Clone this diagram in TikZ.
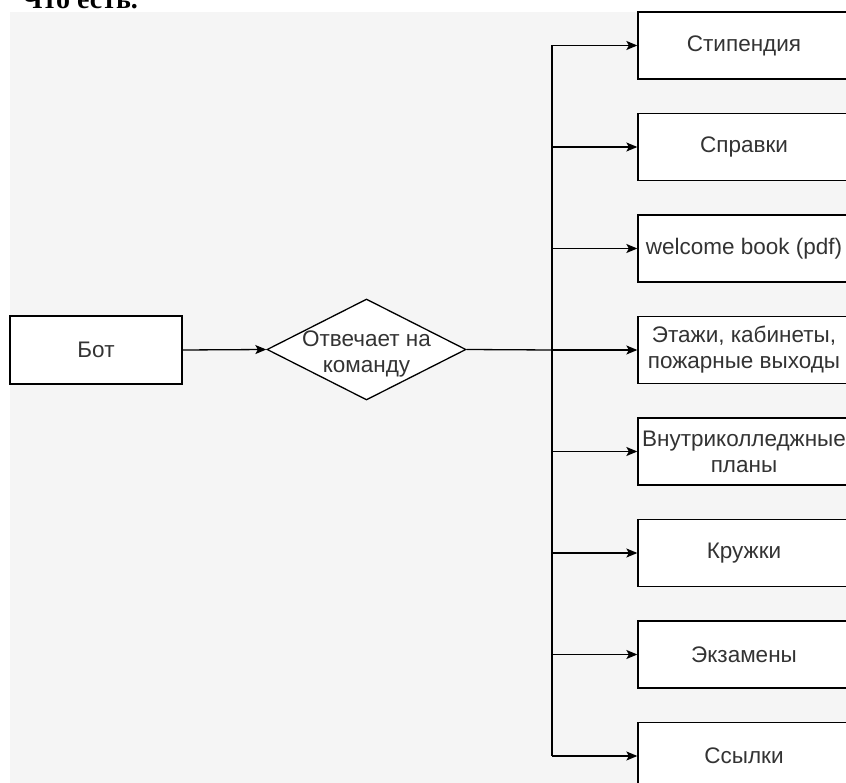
\documentclass[tikz,border=0pt]{standalone}
\usepackage{fontspec}
\setmainfont{Liberation Sans}
\newfontfamily\titlefont{Liberation Serif}
\usetikzlibrary{arrows.meta,shapes.geometric}
\definecolor{bggray}{HTML}{F5F5F5}
\definecolor{txt}{HTML}{333333}
\begin{document}
\begin{tikzpicture}[x=1pt,y=-1pt,
  lbl/.style={font=\fontsize{22.5}{26}\selectfont, text=txt, align=center},
  box/.style={draw=black, fill=white, line width=1.3pt, minimum height=67pt, inner sep=0pt, lbl},
  rbox/.style={box, minimum width=212pt},
  conn/.style={draw=black, line width=1.3pt},
  arr/.style={conn, -{Stealth[length=11pt,width=9pt,inset=2.5pt]}}]
\useasboundingbox (0,0) rectangle (846,783);
\clip (0,0) rectangle (846,783);
\fill[bggray] (10,12) rectangle (846,783);
\node[anchor=base west, inner sep=0pt, font=\titlefont\bfseries\fontsize{28}{28}\selectfont] (title) at (22,8.5) {Что есть.};

\node[box, minimum width=172pt, minimum height=68pt] (bot) at (96,350) {Бот};
\node[draw=black, fill=white, line width=1.3pt, diamond, minimum width=199pt, minimum height=101pt, inner sep=0pt,
      label={[lbl, yshift=-4pt]center:Отвечает на\\команду}] (dec) at (366.5,349.5) {};

\node[rbox] (b1) at (744,45.5) {Стипендия};
\node[rbox] (b2) at (744,147) {Справки};
\node[rbox] (b3) at (744,248.5) {welcome book (pdf)};
\node[rbox] (b4) at (744,350) {Этажи, кабинеты,\\пожарные выходы};
\node[rbox] (b5) at (744,451.5) {Внутриколледжные\\планы};
\node[rbox] (b6) at (744,553) {Кружки};
\node[rbox] (b7) at (744,654.5) {Экзамены};
\node[rbox] (b8) at (744,756) {Ссылки};

\coordinate (trTop) at (552,45.5);
\coordinate (trBot) at (552,756);
\coordinate (junc) at (552,350);

\draw[arr] (bot.east) -- (dec.west);
\draw[conn] (dec.east) -- (junc);
\draw[conn, line width=1.8pt] (trTop) -- (trBot);
\foreach \b in {b1,b2,b3,b4,b5,b6,b7,b8}{
  \draw[arr] (trTop |- \b.west) -- (\b.west);
}
\end{tikzpicture}
\end{document}
